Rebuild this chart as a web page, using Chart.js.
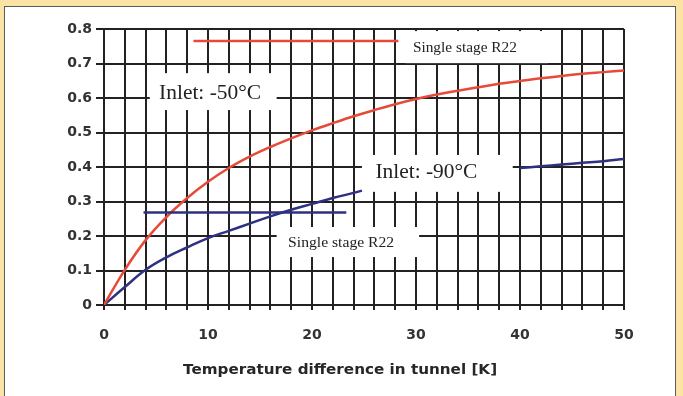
<!DOCTYPE html>
<html>
<head>
<meta charset="utf-8">
<script src="https://cdn.jsdelivr.net/npm/chart.js@4.4.1/dist/chart.umd.min.js"></script>
<style>
  html, body { margin: 0; padding: 0; width: 683px; height: 396px; overflow: hidden; background: #FBE3A6; }
  #panel { position: absolute; left: 4px; top: 6px; width: 672px; height: 400px; background: #fff;
           border: 1px solid #5a5a5a; box-sizing: border-box; }
  #wrap { position: absolute; left: 0; top: 0; width: 683px; height: 396px; }
</style>
</head>
<body>
<div id="panel"></div>
<div id="wrap"><canvas id="c" width="683" height="396"></canvas></div>
<script>
// Temperature difference in tunnel [K]
const tempDiff = [0, 2, 4, 6, 8, 10, 12, 14, 16, 18, 20, 22, 24, 26, 28, 30, 32, 34, 36, 38, 40, 42, 44, 46, 48, 50];
// Inlet -50 °C curve
const inletMinus50 = [0, 0.102, 0.188, 0.255, 0.31, 0.357, 0.397, 0.43, 0.458, 0.483, 0.506, 0.527, 0.547,
                      0.565, 0.582, 0.597, 0.61, 0.621, 0.631, 0.641, 0.649, 0.657, 0.664, 0.67, 0.675, 0.68];
// Inlet -90 °C curve (the part behind its label is left open)
const tempDiff90 = [0, 2, 4, 6, 8, 10, 12, 14, 16, 18, 20, 22, 24, 25, 32, 40, 42, 44, 46, 48, 50];
const inletMinus90 = [0, 0.052, 0.102, 0.138, 0.167, 0.194, 0.215, 0.236, 0.257, 0.276, 0.293, 0.31, 0.325, 0.333,
                      null, 0.397, 0.402, 0.407, 0.412, 0.417, 0.423];
// Single stage R22 reference levels and the span they are drawn over
const r22Span50 = [8.6, 28.3];
const r22Level50 = [0.765, 0.765];
const r22Span90 = [3.8, 23.3];
const r22Level90 = [0.268, 0.268];
// Axis ticks
const xTickLabels = [0, 10, 20, 30, 40, 50];
const yTickLabels = ['0', '0.1', '0.2', '0.3', '0.4', '0.5', '0.6', '0.7', '0.8'];

const RED = '#E64A39';
const BLUE = '#2E3080';
const GRID = '#222222';

const pts = (xs, ys) => xs.map((x, i) => ({ x, y: ys[i] }));

// Text labels sitting on white boxes (box: [x1, x2, yTop, yBottom] in data units)
const notes = [
  { text: 'Inlet: -50°C', box: [4.4, 16.6, 0.672, 0.565], at: [10.2, 0.612], width: 102, size: 21 },
  { text: 'Inlet: -90°C', box: [24.8, 39.3, 0.435, 0.328], at: [31.0, 0.383], width: 102, size: 21 },
  { text: 'Single stage R22', box: [29.0, 42.7, 0.794, 0.701], at: [34.7, 0.745], width: 104, size: 14 },
  { text: 'Single stage R22', box: [16.6, 30.3, 0.226, 0.139], at: [22.8, 0.180], width: 106, size: 14 }
];

const notesPlugin = {
  id: 'notes',
  afterDatasetsDraw(chart) {
    const { ctx, scales: { x, y } } = chart;
    ctx.save();
    notes.forEach(n => {
      const x1 = x.getPixelForValue(n.box[0]), x2 = x.getPixelForValue(n.box[1]);
      const y1 = y.getPixelForValue(n.box[2]), y2 = y.getPixelForValue(n.box[3]);
      ctx.fillStyle = '#ffffff';
      ctx.fillRect(x1, y1, x2 - x1, y2 - y1);
      ctx.font = n.size + 'px "Liberation Serif", "Times New Roman", serif';
      const w = ctx.measureText(n.text).width;
      const cx = x.getPixelForValue(n.at[0]), cy = y.getPixelForValue(n.at[1]);
      ctx.save();
      ctx.translate(cx, cy);
      ctx.scale(n.width / w, 1);
      ctx.fillStyle = '#222';
      ctx.textAlign = 'center';
      ctx.textBaseline = 'middle';
      ctx.fillText(n.text, 0, 0);
      ctx.restore();
    });
    ctx.restore();
  },
  afterDraw(chart) {
    const { ctx, scales: { x } } = chart;
    const title = 'Temperature difference in tunnel [K]';
    ctx.save();
    ctx.font = 'bold 14px "DejaVu Sans", Verdana, sans-serif';
    const w = ctx.measureText(title).width;
    const cx = x.getPixelForValue(22.7);
    ctx.translate(cx, 370);
    ctx.scale(314 / w, 1);
    ctx.fillStyle = '#262626';
    ctx.textAlign = 'center';
    ctx.textBaseline = 'middle';
    ctx.fillText(title, 0, 0);
    ctx.restore();
  }
};

const tickFont = { family: '"DejaVu Sans", Verdana, sans-serif', size: 14, weight: 'bold' };

new Chart(document.getElementById('c'), {
  type: 'line',
  data: {
    datasets: [
      { data: pts(r22Span50, r22Level50), borderColor: RED, borderWidth: 2.5 },
      { data: pts(r22Span90, r22Level90), borderColor: BLUE, borderWidth: 2.5 },
      { data: pts(tempDiff, inletMinus50), borderColor: RED, borderWidth: 2.5, tension: 0.4 },
      { data: pts(tempDiff90, inletMinus90), borderColor: BLUE, borderWidth: 2.5, tension: 0.4, spanGaps: false }
    ]
  },
  options: {
    responsive: false,
    devicePixelRatio: 1,
    animation: false,
    events: [],
    layout: { padding: { left: 0, top: 29, right: 59, bottom: 0 } },
    elements: { point: { radius: 0 }, line: { fill: false } },
    plugins: { legend: { display: false }, tooltip: { enabled: false } },
    scales: {
      x: {
        type: 'linear', min: 0, max: 50,
        afterFit: s => { s.height = 91; },
        afterBuildTicks: s => { s.ticks = tempDiff.map(v => ({ value: v })); },
        ticks: {
          autoSkip: false, maxRotation: 0, padding: 17, color: '#333', font: tickFont,
          callback: v => (xTickLabels.includes(v) ? String(v) : '')
        },
        grid: { color: GRID, lineWidth: 2, tickLength: 5 },
        border: { color: GRID, width: 2 }
      },
      y: {
        min: 0, max: 0.8,
        afterFit: s => { s.width = 104; },
        afterBuildTicks: s => { s.ticks = yTickLabels.map(t => ({ value: parseFloat(t) })); },
        ticks: {
          padding: 4, color: '#333', font: tickFont,
          callback: (v, i) => yTickLabels[i]
        },
        grid: { color: GRID, lineWidth: 2, tickLength: 8 },
        border: { color: GRID, width: 2 }
      }
    }
  },
  plugins: [notesPlugin]
});
</script>
</body>
</html>
